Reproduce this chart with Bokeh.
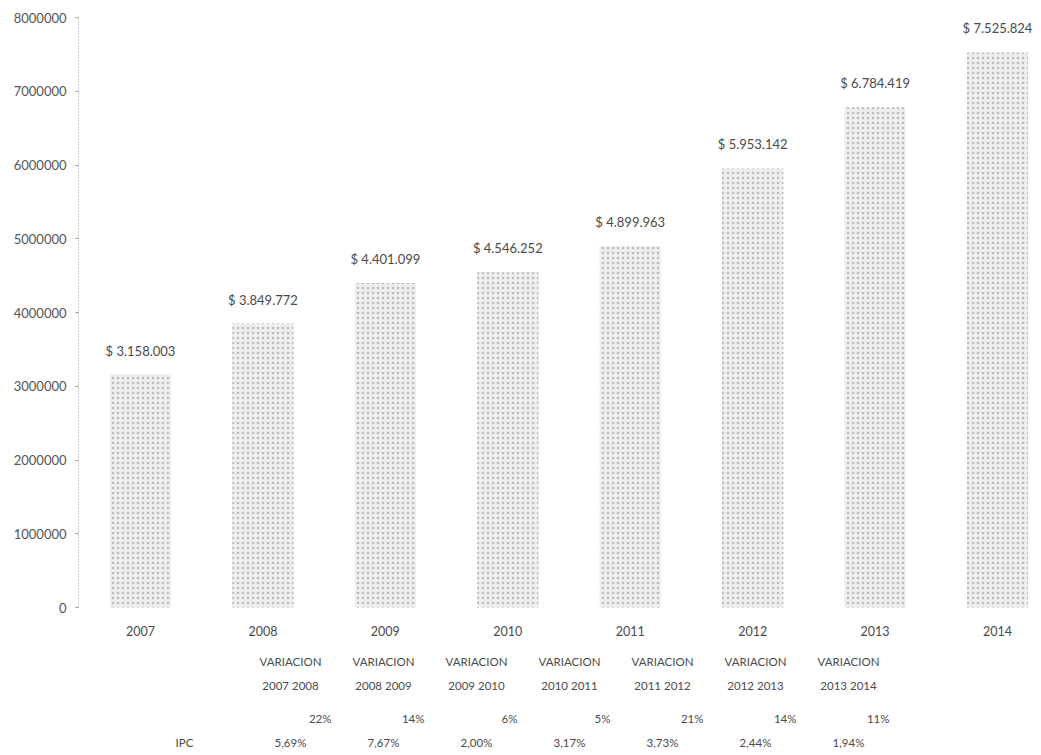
from bokeh.plotting import figure
from bokeh.models import ColumnDataSource, Range1d, FixedTicker, NumeralTickFormatter
from bokeh.core.properties import value
from bokeh.embed import file_html
from bokeh.resources import INLINE

# ---------------- data ----------------
years = ["2007", "2008", "2009", "2010", "2011", "2012", "2013", "2014"]
amounts = [3158003, 3849772, 4401099, 4546252, 4899963, 5953142, 6784419, 7525824]
amount_labels = ["$ 3.158.003", "$ 3.849.772", "$ 4.401.099", "$ 4.546.252",
                 "$ 4.899.963", "$ 5.953.142", "$ 6.784.419", "$ 7.525.824"]
variation_title = "VARIACION"
variation_periods = ["2007 2008", "2008 2009", "2009 2010", "2010 2011",
                     "2011 2012", "2012 2013", "2013 2014"]
variation_pct = ["22%", "14%", "6%", "5%", "21%", "14%", "11%"]
ipc_title = "IPC"
ipc_pct = ["5,69%", "7,67%", "2,00%", "3,17%", "3,73%", "2,44%", "1,94%"]
y_ticks = [0, 1000000, 2000000, 3000000, 4000000, 5000000, 6000000, 7000000, 8000000]

# ---------------- layout (pixels) ----------------
W, H = 1041, 755
FRAME_L, FRAME_R, FRAME_T, FRAME_B = 78, W, 17, H
Y0_PX = 607            # pixel row of value 0
Y_TOP = y_ticks[-1]
X0_PX = 140            # pixel column of the first bar centre
STEP_PX = 122.43       # pixels between bar centres
ppu = (Y0_PX - FRAME_T) / Y_TOP

def xd(px):
    return (px - X0_PX) / STEP_PX

def yd(py):
    return (Y0_PX - py) / ppu

FONT = value("Lato")
TXT = "#4a4a4a"

p = figure(width=W, height=H, output_backend="svg", toolbar_location=None,
           x_range=Range1d(xd(FRAME_L), xd(FRAME_R)),
           y_range=Range1d(yd(FRAME_B), Y_TOP),
           x_axis_location=None,
           min_border_left=FRAME_L, min_border_right=0,
           min_border_top=FRAME_T, min_border_bottom=0)
p.outline_line_color = None
p.grid.grid_line_color = None
p.background_fill_color = "white"
p.border_fill_color = "white"

yax = p.yaxis[0]
yax.ticker = FixedTicker(ticks=y_ticks)
yax.bounds = (0, Y_TOP)
yax.formatter = NumeralTickFormatter(format="0")
yax.axis_line_color = "#9a9a9a"
yax.axis_line_dash = "1 2"
yax.major_tick_line_color = "#9a9a9a"
yax.major_tick_out = 3
yax.major_tick_in = 0
yax.minor_tick_out = 0
yax.minor_tick_in = 0
yax.major_label_standoff = 9
yax.major_label_text_font = "Lato"
yax.major_label_text_font_size = "13px"
yax.major_label_text_color = "#555555"

# bars
idx = list(range(len(years)))
src = ColumnDataSource(dict(x=idx, top=amounts, lab=amount_labels, yr=years))
p.vbar(x="x", top="top", bottom=0, width=0.5, source=src,
       fill_color="#eeeeee", line_color=None,
       hatch_pattern=".", hatch_color="#a8a8a8", hatch_scale=5, hatch_weight=1.2,
       hatch_alpha=0.75)

# value labels
p.text(x="x", y="top", text="lab", source=src, y_offset=-16,
       text_align="center", text_baseline="bottom",
       text_font=FONT, text_font_size="13px", text_color=TXT)

# year labels under bars
p.text(x="x", y=yd(630), text="yr", source=src,
       text_align="center", text_baseline="middle",
       text_font=FONT, text_font_size="12.5px", text_color=TXT)

# table below
COL0_PX, COL_STEP = 290, 93
cols = [xd(COL0_PX + i * COL_STEP) for i in range(len(variation_periods))]
tsrc = ColumnDataSource(dict(
    x=cols,
    xr=[xd(COL0_PX + i * COL_STEP + 41) for i in range(len(variation_periods))],
    head=[variation_title] * len(variation_periods),
    per=variation_periods, pct=variation_pct, ipc=ipc_pct))
common = dict(text_font=FONT, text_font_size="11.5px", text_color=TXT, text_baseline="middle")
p.text(x="x", y=yd(661), text="head", source=tsrc, text_align="center", **common)
p.text(x="x", y=yd(685), text="per", source=tsrc, text_align="center", **common)
p.text(x="xr", y=yd(718), text="pct", source=tsrc, text_align="right", **common)
p.text(x="x", y=yd(742), text="ipc", source=tsrc, text_align="center", **common)
p.text(x=[xd(184)], y=[yd(742)], text=[ipc_title], text_align="center", **common)

open("out.html", "w").write(file_html(p, INLINE))
